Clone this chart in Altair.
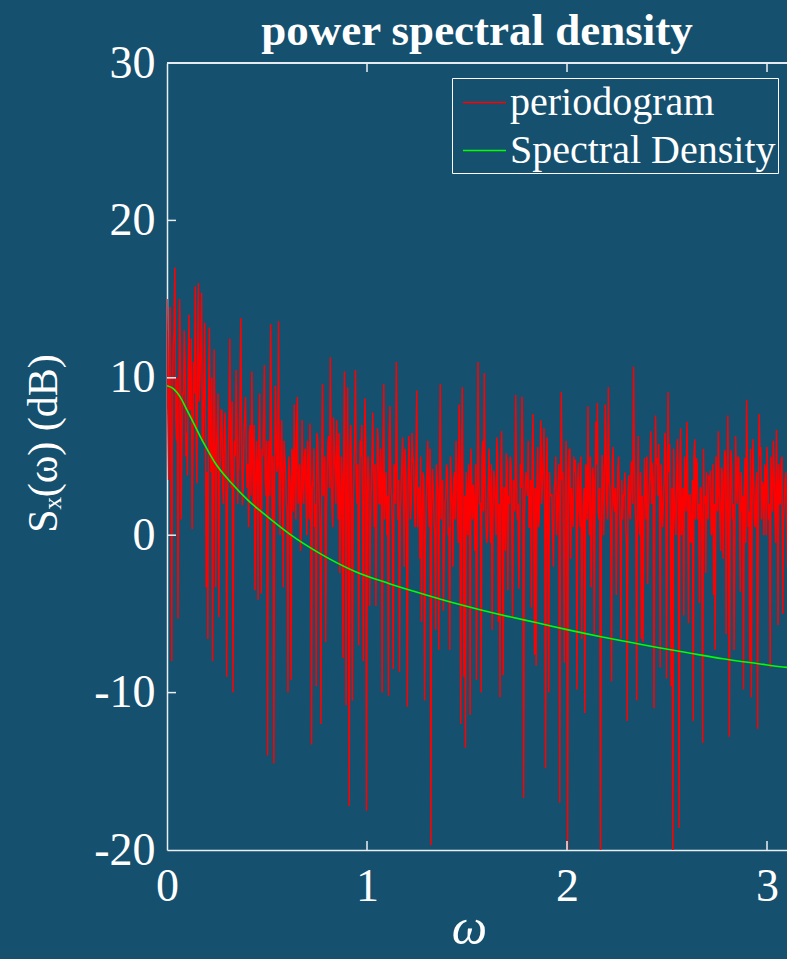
import altair as alt
import numpy as np
import pandas as pd

# ---------------- data ----------------
# periodogram in dB: spikes, five frequency segments
period_seg1 = [15.0, 3.5, 14.5, -8.0, 12.0, 17.0, 6.0, -5.3, 15.0, 1.0,
               9.0, 13.0, 5.0, 3.8, 14.0, 8.0, 0.4, 11.0, 15.8, 3.3,
               16.0, 10.0, 15.4, 6.0, 13.5, -3.3, -6.6, 13.2, 4.0, -8.0,
               11.8, -3.3, 7.0, -5.2, 5.0, 7.9, 2.0, 7.8, -9.0, 4.0,
               12.5, 3.0, -10.0, 6.0, 10.5, 2.0, 5.0, 13.8, 1.9, 6.5,
               8.8, 3.0, 0.5, 7.0, 10.4, 2.0, -3.5, 6.0, -4.1, 9.0,
               -3.7, 5.0, 10.8, 2.5, -14.0, 6.0, 13.4, 1.0, -14.5, 9.5,
               4.0, 13.6, 0.0, 7.3, -3.3, 5.0, 2.0, -10.0]
period_seg2 = [4.0, -9.2, 5.0, 8.3, 1.0, 8.8, 3.0, -1.0, 7.3, 2.0,
               5.5, 0.0, 4.5, 7.1, -13.3, 3.5, 0.5, -9.6, 6.0, 2.0,
               -12.0, 9.6, 3.0, -6.8, 4.0, 6.3, 11.3, 2.0, 7.5, 4.0,
               7.3, 1.0, -2.4, 5.0, -7.8, 10.4, -10.8, 9.4, -17.2, 7.0,
               -10.5, 4.0, 10.5, 2.0, -7.0, 6.0, 7.0, -8.0, 8.7, -17.5,
               5.0, -4.5, 3.0, 7.8, 0.5, -4.5, 6.8, 2.0, 5.5, -10.0,
               9.6, 3.0, 0.0, -10.2, 8.2, 2.5, -8.5, 4.0, 11.0, 1.0,
               -8.7, 3.0, 6.2, -2.0, 4.0, -10.9, 6.3, 1.0, 6.5]
period_seg3 = [4.5, 0.5, 9.2, 3.0, -1.5, -5.5, 4.0, -10.5, 2.0, 6.0,
               0.5, -19.7, 4.2, 1.0, -6.0, 3.5, -7.3, 9.6, 3.0, -4.8,
               2.0, 4.5, 0.0, -7.3, 3.0, -2.0, 4.0, 6.0, 1.0, 8.3,
               -12.0, 9.4, -9.0, -13.5, 2.5, 4.5, -11.4, 3.5, 3.2, -1.0,
               -9.2, 11.0, 2.0, -10.0, 6.0, 10.3, 1.0, 0.0, 5.5, -0.5,
               -6.0, 4.1, 1.5, 6.2, -5.5, -10.3, 6.6, -8.9, 3.0, 5.2,
               -3.5, 2.0, 4.5, -5.2, 3.0, 8.9, 1.0, -3.4, 4.5, 8.8,
               -16.7, 3.0, 3.2, 6.0, 0.5, -4.6, 7.7, -7.6]
period_seg4 = [-8.3, 5.6, 1.0, 7.3, 3.0, 6.8, -14.8, 6.2, -10.0, 2.5,
               2.6, -2.0, 3.4, 0.0, 3.1, -17.0, 9.1, 4.0, -8.1, 6.0,
               -21.0, 5.4, -1.5, 1.6, 5.0, 4.8, -9.8, 4.6, 0.5, -6.6,
               2.0, -11.3, 4.0, 8.2, 0.0, -3.3, 4.3, -6.3, 7.2, 8.4,
               1.0, -21.0, 5.1, 0.0, 8.3, 2.0, 9.4, 3.0, -9.3, 5.6,
               1.5, -3.8, 4.2, 2.0, -6.6, 1.0, 2.6, 0.5, -11.8, 3.8,
               1.0, 4.7, 10.7, 2.0, -10.5, 6.3, 0.0, -6.6, -6.8, 4.9,
               1.0, -3.1, 3.0, 6.6, 4.6, -11.0, 7.6, 4.9]
period_seg5 = [5.8, -8.4, 2.0, 2.1, 6.5, -9.1, 9.1, 5.8, -9.6, -21.0,
               3.1, 0.0, 6.1, -18.6, 6.8, 1.0, -5.1, 3.0, 7.2, -5.6,
               2.6, 0.0, -11.8, 6.1, 4.9, 1.0, -4.3, 3.0, -13.2, 2.0,
               -2.4, 1.5, 3.8, 4.1, 0.5, -3.8, -7.3, 3.3, 6.6, 1.0,
               4.3, -1.5, 5.4, -6.3, 7.6, -12.8, 5.4, 1.0, -7.3, 6.3,
               2.0, 4.9, -3.6, 1.5, -9.8, 4.9, 8.6, 0.5, -8.0, -10.3,
               6.1, 1.0, 3.0, -12.3, 7.7, 5.6, 3.4, 0.0, 4.1, 5.6,
               1.0, -8.4, 2.9, 6.0, 1.5, 6.7, -5.7, 2.0, 4.7, -5.0,
               2.0, 4.0, -2.0, 5.0, 1.0, 3.5, -4.0]

# the dense solid core of the red band, read per segment (between the spikes)
core_seg1 = [8.0, 11.5, 5.0, 9.5, 13.0, 7.5, 10.0, 4.5, 12.0, 6.0,
             9.0, 11.0, 6.5, 10.5, 8.0, 12.5, 5.5, 9.0, 7.0, 11.0,
             8.5, 12.0, 6.0, 9.5, 7.0, 4.0, 8.5, 6.0, 10.0, 3.5,
             7.0, 5.5, 9.0, 4.0, 8.0, 3.0, 6.5, 5.0, 2.5, 7.5,
             6.0, 8.5, 3.5, 5.0, 7.0, 4.0, 9.0, 6.0, 3.0, 7.5,
             5.0, 4.5, 6.5, 2.5, 5.5, 7.0, 3.0, 4.5, 6.0, 2.0,
             5.5, 7.5, 3.5, 6.0, 4.0, 2.5, 7.0, 5.0, 3.0, 6.5,
             4.5, 2.0, 5.5, 3.0, 6.0, 4.0, 1.5, 5.0]
core_seg2 = [3.0, 5.5, 1.5, 4.0, 6.5, 2.0, 4.5, 0.5, 3.5, 5.0,
             2.5, 6.0, 1.0, 4.0, 3.0, 5.5, 2.0, 6.5, 3.5, 0.0,
             4.5, 2.5, 5.0, 1.5, 6.0, 3.0, 4.0, 0.5, 5.5, 2.0,
             4.5, 6.5, 1.0, 3.5, 5.0, 2.5, 4.0, 0.0, 5.5, 3.0,
             1.5, 6.0, 3.5, 4.5, 1.0, 5.0, 2.0, 4.0, 6.0, 2.5,
             3.5, 0.5, 5.0, 3.0, 4.5, 1.5, 6.0, 2.0, 3.5, 5.5,
             1.0, 4.0, 2.5, 6.5, 3.0, 0.5, 4.5, 2.0, 5.0, 3.5,
             1.5, 4.5, 2.5, 5.5, 0.5, 3.0, 4.0, 2.0, 5.0]
core_seg3 = [2.0, 4.5, 0.5, 3.0, 5.0, 1.0, 3.5, -0.5, 4.0, 2.0,
             5.5, 1.5, 3.0, 0.0, 4.5, 2.5, 5.0, 1.0, 3.5, -1.0,
             2.5, 4.0, 0.5, 5.0, 2.0, 3.5, 1.0, 4.5, -0.5, 3.0,
             5.0, 1.5, 2.5, 4.0, 0.0, 3.0, 5.5, 1.0, 2.0, 4.5,
             0.5, 3.5, 2.0, 5.0, 1.5, 4.0, -0.5, 3.0, 2.5, 4.5,
             1.0, 3.5, 0.0, 5.0, 2.0, 4.0, 1.5, 3.0, -1.0, 4.5,
             2.5, 5.0, 0.5, 3.5, 1.5, 4.0, 2.0, 0.0, 3.0, 5.5,
             1.0, 4.0, 2.5, 0.5, 3.5, 5.0, 1.5, 3.0]
core_seg4 = [3.0, 0.5, 4.5, 2.0, 5.0, 1.0, 3.5, -0.5, 4.0, 2.5,
             0.0, 3.0, 5.0, 1.5, 4.5, 2.0, 3.5, -1.0, 2.5, 4.0,
             1.0, 5.5, 3.0, 0.5, 4.0, 2.0, 3.5, 1.5, 5.0, 0.0,
             3.0, 4.5, 1.0, 2.5, 5.0, 0.5, 3.5, 2.0, 4.5, 1.5,
             3.0, -0.5, 4.0, 2.5, 5.5, 1.0, 3.5, 0.0, 4.5, 2.0,
             3.0, 1.5, 5.0, 0.5, 3.5, 2.5, 4.0, -0.5, 3.0, 1.5,
             4.5, 2.0, 5.0, 0.5, 3.5, 1.0, 4.0, 2.5, 0.0, 3.0,
             5.0, 1.5, 4.0, 2.0, 3.5, 0.5, 4.5, 2.5]
core_seg5 = [2.5, 4.5, 0.5, 3.5, 5.0, 1.5, 4.0, -0.5, 3.0, 5.5,
             1.0, 3.5, 2.0, 4.5, 0.0, 3.0, 5.0, 1.5, 4.0, 2.5,
             -0.5, 3.5, 5.0, 1.0, 4.5, 2.0, 3.0, 0.5, 5.5, 2.5,
             4.0, 1.0, 3.5, 0.0, 4.5, 2.0, 5.0, 1.5, 3.0, -1.0,
             4.0, 2.5, 5.0, 0.5, 3.5, 1.5, 4.5, 2.0, 0.0, 3.5,
             5.0, 1.0, 4.0, 2.5, 3.0, -0.5, 4.5, 1.5, 5.5, 2.0,
             3.5, 0.5, 4.0, 2.5, 5.0, 1.0, 3.0, 4.5, 0.0, 3.5,
             2.0, 5.0, 1.5, 4.0, -0.5, 3.0, 4.5, 2.0, 5.0, 1.0,
             3.5, 0.5, 4.0, 2.5, 3.0, 1.5, 4.5]

# smooth spectral density (dB) read at these frequencies
sd_omega = [0.0, 0.033, 0.065, 0.098, 0.13, 0.165, 0.19, 0.24, 0.323, 0.407,
            0.49, 0.61, 0.77, 0.94, 1.105, 1.23, 1.39, 1.555, 1.72, 1.845,
            2.0, 2.17, 2.335, 2.46, 2.617, 2.78, 2.95, 3.1, 3.1416]
sd_db = [9.5, 9.3, 8.8, 8.0, 7.2, 6.3, 5.7, 4.6, 3.3, 2.2,
         1.3, 0.1, -1.2, -2.3, -3.05, -3.55, -4.15, -4.7, -5.2, -5.55,
         -6.0, -6.45, -6.85, -7.15, -7.5, -7.85, -8.15, -8.4, -8.45]

series_names = ["periodogram", "Spectral Density"]
series_colors = ["#ff0000", "#00ff00"]
x_ticks = [0, 1, 2, 3]
y_ticks = [-20, -10, 0, 10, 20, 30]

# ---------------- tables ----------------
spikes = period_seg1 + period_seg2 + period_seg3 + period_seg4 + period_seg5
core = core_seg1 + core_seg2 + core_seg3 + core_seg4 + core_seg5
period_db = [v for pair in zip(spikes, core) for v in pair]
n_bins = len(period_db)
omega = np.arange(n_bins) * np.pi / n_bins
df_p = pd.DataFrame({"omega": omega, "db": period_db, "series": series_names[0]})
df_s = pd.DataFrame({"omega": sd_omega, "db": sd_db, "series": series_names[1]})
df_xt = pd.DataFrame({"omega": x_ticks[1:]})
df_yt = pd.DataFrame({"db": y_ticks[1:-1]})

W, H = 620, 787
BG = "#15506f"
FONT = "Liberation Serif"

x_scale = alt.Scale(domain=[0, 3.1], nice=False, zero=False)
y_scale = alt.Scale(domain=[-20, 30], nice=False, zero=False)
color_scale = alt.Scale(domain=series_names, range=series_colors)

x_axis = alt.Axis(values=x_ticks, title="ω", titleFontStyle="italic",
                  titleFontSize=50, titleX=302, titleY=78, titleAlign="center",
                  titleBaseline="middle", labelPadding=14, labelFlush=False,
                  labelOverlap=False, format="d")
y_axis = alt.Axis(values=y_ticks, title="Sₓ(ω) (dB)", titleFontSize=42,
                  titleAngle=270, titleX=-124, titleY=380, titleAlign="center",
                  titleBaseline="middle", labelPadding=12, labelOverlap=False,
                  labelExpr="toString(datum.value)")

legend = alt.Legend(title=None, orient="none", legendX=285, legendY=15,
                    symbolType="stroke", symbolSize=1849, symbolStrokeWidth=1.5,
                    symbolOffset=8,
                    labelFont=FONT, labelFontSize=40, labelColor="white",
                    labelLimit=0, labelOffset=3, rowPadding=5, padding=2,
                    fillColor=BG, strokeColor="white")

color_enc = alt.Color("series:N", scale=color_scale, legend=legend)
X = alt.X("omega:Q", scale=x_scale, axis=x_axis)
Y = alt.Y("db:Q", scale=y_scale, axis=y_axis)

periodogram = alt.Chart(df_p).mark_line(strokeWidth=1.5, clip=True).encode(
    x=X, y=Y, color=color_enc,
)
density = alt.Chart(df_s).mark_line(strokeWidth=1.6, clip=True, interpolate="monotone").encode(
    x=X, y=Y, color=color_enc,
)

tick_color = "#e8eef2"
bottom_ticks = alt.Chart(df_xt).mark_rule(color=tick_color, strokeWidth=1.5).encode(
    x=X, y=alt.value(H), y2=alt.value(H - 9))
top_ticks = alt.Chart(df_xt).mark_rule(color=tick_color, strokeWidth=1.5).encode(
    x=X, y=alt.value(0), y2=alt.value(9))
left_ticks = alt.Chart(df_yt).mark_rule(color=tick_color, strokeWidth=1.5).encode(
    y=Y, x=alt.value(0), x2=alt.value(9))
top_line = alt.Chart(df_xt).mark_rule(color=tick_color, strokeWidth=1.5).encode(
    x=alt.value(0), x2=alt.value(W), y=alt.value(0))

chart = alt.layer(
    periodogram, density, bottom_ticks, top_ticks, left_ticks, top_line
).properties(
    width=W, height=H,
    title=alt.TitleParams(text="power spectral density", font=FONT, fontSize=45,
                          fontWeight="bold", color="white", offset=-14, anchor="middle"),
    autosize=alt.AutoSizeParams(type="none"),
    padding={"left": 167, "top": 63, "right": 0, "bottom": 109},
    background=BG,
).configure_view(stroke=None).configure_axis(
    domainColor=tick_color, domainWidth=1.5, ticks=False, grid=False,
    labelColor="white", labelFont=FONT, labelFontSize=46,
    titleColor="white", titleFont=FONT, titleFontWeight="normal",
)

chart.save("out.html", embed_options={"renderer": "svg", "actions": False})
